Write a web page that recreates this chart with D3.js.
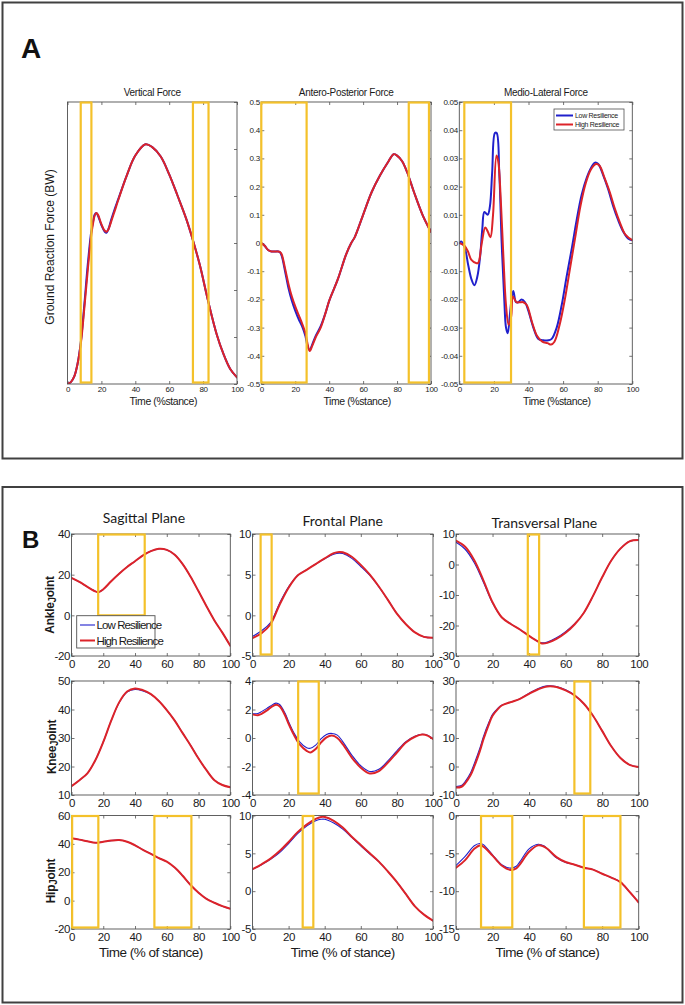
<!DOCTYPE html>
<html><head><meta charset="utf-8">
<script src="https://cdn.jsdelivr.net/npm/d3@7"></script>
<style>body{margin:0;background:#fff} svg{display:block}</style>
</head><body><svg id="c" width="685" height="1005"></svg>
<script>
// ---------------- DATA ----------------
const seriesNames = ["Low Resilience", "High Resilience"];

// Panel A : ground reaction forces
const vfX    = [0,2,4,6,8,10,12,14,15,16,17,18,20,22,23,24,26,28,30,35,40,46,50,55,60,65,70,74,78,83,88,92,96,100];
const vfHigh = [0,0.02,0.08,0.22,0.45,0.82,1.22,1.58,1.7,1.79,1.82,1.8,1.7,1.63,1.62,1.64,1.74,1.85,1.96,2.22,2.43,2.55,2.52,2.42,2.23,2.0,1.76,1.53,1.27,0.88,0.53,0.32,0.16,0.07];
const vfLow  = [0,0.02,0.08,0.22,0.47,0.86,1.28,1.62,1.72,1.8,1.82,1.79,1.69,1.62,1.61,1.64,1.76,1.87,1.97,2.22,2.43,2.55,2.52,2.42,2.23,2.0,1.76,1.53,1.27,0.88,0.53,0.32,0.16,0.07];
const vfYTicks = [0,0.5,1,1.5,2,2.5,3];
const vfYLabels = ["0","0.5","1","1.5","2","2.5","3"];

const apX    = [0,2,4,6,8,10,11,12,14,16,18,20,22,24,26,27,28.5,30,32,35,38,40,45,50,53,55,60,65,70,75,78,80,83,86,90,95,98.8,100];
const apHigh = [0,-0.01,-0.025,-0.03,-0.03,-0.03,-0.032,-0.04,-0.09,-0.145,-0.19,-0.225,-0.255,-0.285,-0.32,-0.35,-0.383,-0.365,-0.335,-0.3,-0.245,-0.205,-0.13,-0.04,0,0.02,0.1,0.18,0.24,0.29,0.315,0.31,0.29,0.25,0.18,0.1,0.053,0.04];
const apLow  = [0,-0.01,-0.025,-0.03,-0.03,-0.03,-0.033,-0.045,-0.1,-0.16,-0.205,-0.24,-0.27,-0.295,-0.33,-0.36,-0.38,-0.36,-0.33,-0.295,-0.245,-0.205,-0.13,-0.04,0,0.02,0.1,0.18,0.24,0.29,0.315,0.31,0.29,0.25,0.18,0.1,0.053,0.04];
const apYTicks = [-0.5,-0.4,-0.3,-0.2,-0.1,0,0.1,0.2,0.3,0.4,0.5];
const apYLabels = ["-0.5","-0.4","-0.3","-0.2","-0.1","0","0.1","0.2","0.3","0.4","0.5"];

const mlLowX  = [0,1.3,3.3,5.2,7.1,8.7,10.4,12,13.3,14.5,16.4,17.7,19,20.6,21.6,23.1,24.5,26,27,28,29.3,30.2,31.2,32.8,34.1,36,38,39.9,42.8,45.7,48.6,51.4,53.4,56.3,59.2,62,65,67.8,70.7,73.6,76.5,78.4,80.3,83.2,86.1,89,91.9,94.8,97.7,100];
const mlLow   = [0,0.0005,-0.002,-0.008,-0.013,-0.015,-0.012,-0.005,0.005,0.011,0.01,0.013,0.025,0.039,0.039,0.025,0,-0.02,-0.03,-0.032,-0.025,-0.02,-0.017,-0.021,-0.021,-0.02,-0.021,-0.024,-0.03,-0.034,-0.0345,-0.0345,-0.034,-0.03,-0.022,-0.012,-0.002,0.008,0.017,0.023,0.027,0.0285,0.028,0.024,0.019,0.013,0.008,0.004,0.0015,0.001];
const mlHighX = [0,3,5,7,10,11,13,15,16.5,18,19.5,21.5,22.5,24,25.5,27,28.5,30,31,33,35,37,39,42,45,48,51,53,55,58,61,64,67,70,73,76,79,81,84,87,90,93,96,100];
const mlHigh  = [0,-0.001,-0.003,-0.006,-0.0072,-0.007,0,0.0055,0.004,0.002,0.01,0.031,0.029,0.015,-0.005,-0.022,-0.029,-0.026,-0.019,-0.021,-0.021,-0.021,-0.022,-0.028,-0.033,-0.035,-0.0355,-0.036,-0.035,-0.029,-0.02,-0.009,0.002,0.013,0.021,0.026,0.028,0.0275,0.023,0.018,0.012,0.007,0.003,0.001];
const mlYTicks = [-0.05,-0.04,-0.03,-0.02,-0.01,0,0.01,0.02,0.03,0.04,0.05];
const mlYLabels = ["-0.05","-0.04","-0.03","-0.02","-0.01","0","0.01","0.02","0.03","0.04","0.05"];

const pctTicks = [0,20,40,60,80,100];
const pctLabels = ["0","20","40","60","80","100"];

// Panel B : joint angles
const ankSagX    = [0,5,10,15,17,20,25,30,35,40,45,50,55,60,65,70,75,80,85,90,95,100];
const ankSagHigh = [18.4,16.4,14,11.8,11.4,12.8,16.8,20.5,23.8,26.6,29.5,31.6,32.7,32.2,29.8,25.2,19,11.8,4.5,-2.5,-8.5,-15];
const ankSagLow  = [18.4,16.4,14,11.8,11.4,12.8,16.8,20.5,23.8,26.6,29.5,31.6,32.7,32.2,29.8,25.2,19,11.8,4.5,-2.5,-8.5,-15];

const ankFrX    = [0,5,10,15,20,25,30,35,40,45,48,50,55,60,65,70,75,80,85,90,95,100];
const ankFrHigh = [-2.8,-2.2,-1.1,1.3,3.4,4.9,5.6,6.3,7.0,7.65,7.8,7.75,7.2,6.2,5.0,3.55,1.9,0.2,-1.1,-2.1,-2.65,-2.75];
const ankFrLow  = [-2.6,-1.9,-0.9,1.5,3.5,4.9,5.6,6.3,6.95,7.5,7.65,7.6,7.0,6.0,4.9,3.5,1.9,0.2,-1.1,-2.1,-2.65,-2.75];

const ankTrX    = [0,5,10,15,20,25,30,35,40,45,47,50,55,60,65,70,75,80,85,90,95,100];
const ankTrHigh = [7.8,5.8,1.4,-5.2,-12.4,-17.3,-19.5,-21.3,-23.4,-25.3,-25.9,-25.7,-24.4,-22.4,-19.6,-15.8,-10.3,-4.2,1.3,5.2,7.6,8.0];
const ankTrLow  = [7.3,5.0,0.6,-5.8,-12.6,-17.3,-19.5,-21.3,-23.4,-25.3,-25.7,-25.4,-24.0,-22.0,-19.4,-15.8,-10.3,-4.2,1.3,5.2,7.6,8.0];

const kneSagX    = [0,5,10,15,20,25,30,35,40,45,50,55,60,65,70,75,80,85,90,95,100];
const kneSagHigh = [13.1,15.2,17.6,22.2,28.6,36.1,42.5,46.3,47.4,46.8,45.4,43,39.8,36.1,31.7,27.4,22.8,18.7,15.2,13.5,12.7];
const kneSagLow  = [13.1,15.2,17.6,22.2,28.6,36.1,42.4,46.1,47.0,46.5,45.3,43,39.8,36.1,31.7,27.4,22.8,18.7,15.2,13.5,12.7];

const kneFrX    = [0,3,5,8,10,13,15,18,20,23,26,30,32,35,38,41,44,47,50,55,60,65,70,75,80,85,90,94,97,100];
const kneFrHigh = [1.66,1.6,1.7,1.94,2.13,2.34,2.22,1.6,1.0,0.21,-0.43,-0.9,-1.02,-0.78,-0.31,0.05,0.17,0,-0.43,-1.37,-2.08,-2.49,-2.32,-1.73,-1.02,-0.31,0.09,0.24,0.17,-0.07];
const kneFrLow  = [1.7,1.72,1.85,2.08,2.25,2.45,2.35,1.75,1.15,0.35,-0.25,-0.68,-0.72,-0.5,-0.05,0.25,0.32,0.2,-0.25,-1.2,-1.95,-2.35,-2.2,-1.6,-0.9,-0.25,0.12,0.26,0.2,-0.05];

const kneTrX    = [0,3,5,8,10,13,15,18,20,23,25,30,35,40,45,50,55,60,65,70,75,80,85,90,95,100];
const kneTrHigh = [-7.4,-7.1,-5.9,-3.0,0,5.3,9.5,14.8,17.8,20.2,21.4,22.6,23.7,25.5,27.1,28.1,27.9,26.7,24.9,22,17.8,12.5,7.1,3.0,0.6,-0.2];
const kneTrLow  = [-7.0,-6.7,-5.3,-2.2,1.0,6.3,10.5,15.5,18.3,20.5,21.5,22.6,23.8,25.7,27.4,28.3,28.1,26.9,25.0,22,17.8,12.5,7.1,3.0,0.6,-0.2];

const hipSagX    = [0,5,10,15,20,25,30,35,40,45,50,55,60,65,70,75,80,85,90,95,100];
const hipSagHigh = [44,43,41.8,40.8,41.5,42.3,42.7,41.5,39,35.8,33,30,27.5,23.3,17.5,11,5.6,1.3,-1.5,-3.9,-5.7];
const hipSagLow  = [44,43,41.8,40.8,41.5,42.3,42.7,41.5,39,35.8,33,30,27.5,23.3,17.5,11,5.6,1.3,-1.5,-3.9,-5.7];

const hipFrX    = [0,5,10,15,20,25,30,35,38,40,45,50,55,60,65,70,75,80,85,90,95,100];
const hipFrHigh = [2.9,3.55,4.3,5.3,6.5,7.8,8.8,9.55,9.8,9.8,9.3,8.4,7.2,6.1,5.0,3.9,2.6,1.2,-0.4,-2.0,-3.1,-3.9];
const hipFrLow  = [2.9,3.5,4.2,5.1,6.3,7.6,8.6,9.3,9.5,9.5,9.0,8.2,7.1,6.0,4.9,3.9,2.6,1.2,-0.4,-2.0,-3.1,-3.9];

const hipTrX    = [0,5,10,13,15,20,25,30,33,35,40,45,48,50,55,60,65,70,75,80,85,90,95,100];
const hipTrHigh = [-6.9,-5.9,-4.4,-3.95,-4.1,-5.3,-6.6,-7.2,-7.0,-6.45,-4.8,-3.95,-4.1,-4.4,-5.5,-6.15,-6.5,-6.9,-7.15,-7.7,-8.2,-8.8,-10.1,-11.5];
const hipTrLow  = [-6.6,-5.4,-4.0,-3.7,-3.85,-5.2,-6.5,-6.95,-6.7,-6.1,-4.4,-3.8,-4.0,-4.4,-5.6,-6.2,-6.5,-6.9,-7.15,-7.7,-8.2,-8.8,-10.1,-11.5];

// highlighted (yellow) windows: [xStart, xEnd]
const vfWindows  = [[7.8,14.1],[74,83.2]];
const apWindows  = [[0,26.7],[86.9,98.8]];
const mlWindows  = [[2.9,29.9]];
const ankSagWin  = [[16.8,46.1]];
const ankFrWin   = [[4.5,10.6]];
const ankTrWin   = [[39.3,45.5]];
const kneFrWin   = [[25.3,36.7]];
const kneTrWin   = [[64.8,73.5]];
const hipSagWin  = [[0.4,16.9],[52.2,75.5]];
const hipFrWin   = [[27.8,33.7]];
const hipTrWin   = [[13.7,30.8],[70,90]];

// ---------------- DRAW ----------------
const svg = d3.select("#c");
const RED = "#dc2329", BLUE = "#2020cc", GOLD = "#f4c12a", AX = "#505050", TXT = "#1a1a1a";
const NARROW = "'Liberation Sans Narrow','Arial Narrow','Liberation Sans',Arial,sans-serif";
const SANS = "'Liberation Sans',Arial,sans-serif";
let clipN = 0;

// panel frames
svg.append("rect").attr("x",2.5).attr("y",2.5).attr("width",680).attr("height",456)
  .attr("fill","none").attr("stroke","#404040").attr("stroke-width",2);
svg.append("rect").attr("x",2.5).attr("y",487).attr("width",680).attr("height",515.5)
  .attr("fill","none").attr("stroke","#404040").attr("stroke-width",2);
svg.append("text").attr("x",21).attr("y",58).text("A")
  .attr("font-family",SANS).attr("font-weight","bold").attr("font-size",28).attr("fill","#111");
svg.append("text").attr("x",22).attr("y",548).text("B")
  .attr("font-family",SANS).attr("font-weight","bold").attr("font-size",24).attr("fill","#111");

function plot(c){
  const [x0,y0,x1,y1] = c.box;
  const x = d3.scaleLinear().domain([0,100]).range([x0,x1]);
  const y = d3.scaleLinear().domain(c.yd).range([y1,y0]);
  const g = svg.append("g");
  const id = "clip"+(clipN++);
  svg.append("clipPath").attr("id",id).append("rect")
    .attr("x",x0).attr("y",y0).attr("width",x1-x0).attr("height",y1-y0);
  const ts = 3;
  const ax = [
    g.append("g").attr("transform",`translate(0,${y1})`)
      .call(d3.axisBottom(x).tickValues(pctTicks).tickFormat((d,i)=>pctLabels[i]).tickSize(-ts).tickSizeOuter(0).tickPadding(c.xpad)),
    g.append("g").attr("transform",`translate(0,${y0})`)
      .call(d3.axisTop(x).tickValues(pctTicks).tickFormat("").tickSize(-ts).tickSizeOuter(0)),
    g.append("g").attr("class","yl").attr("transform",`translate(${x0},0)`)
      .call(d3.axisLeft(y).tickValues(c.yt).tickFormat((d,i)=>c.yl[i]).tickSize(-ts).tickSizeOuter(0).tickPadding(c.ypad)),
    g.append("g").attr("transform",`translate(${x1},0)`)
      .call(d3.axisRight(y).tickValues(c.yt).tickFormat("").tickSize(-ts).tickSizeOuter(0))
  ];
  ax.forEach(a=>{
    a.select(".domain").remove();
    a.selectAll("line").attr("stroke",AX).attr("stroke-width",0.8);
    a.selectAll("text").attr("fill",TXT).attr("font-family",c.font).attr("font-size",c.fs).attr("letter-spacing",c.ls);
  });
  if (c.ylClip){
    const cid = "clip"+(clipN++);
    svg.append("clipPath").attr("id",cid).append("rect")
      .attr("x",c.ylClip).attr("y",y0-10).attr("width",x0-c.ylClip).attr("height",y1-y0+20);
    ax[2].attr("clip-path",`url(#${cid})`);
  }
  // lines
  const lg = g.append("g").attr("clip-path",`url(#${id})`);
  c.series.forEach(s=>{
    const pts = s.x.map((v,i)=>[v,s.y[i]]);
    lg.append("path").datum(pts)
      .attr("d", d3.line().x(d=>x(d[0])).y(d=>y(d[1])).curve(d3.curveCatmullRom.alpha(0.5)))
      .attr("fill","none").attr("stroke",s.color).attr("stroke-width",s.w)
      .attr("stroke-linejoin","round").attr("stroke-linecap","round");
  });
  // box
  g.append("rect").attr("x",x0).attr("y",y0).attr("width",x1-x0).attr("height",y1-y0)
    .attr("fill","none").attr("stroke",AX).attr("stroke-width",0.9);
  // windows
  (c.win||[]).forEach(w=>{
    const yb = c.winBottom!==undefined ? y(c.winBottom) : y1-1.5;
    g.append("rect").attr("x",x(w[0])).attr("y",y0+0.5).attr("width",x(w[1])-x(w[0])).attr("height",yb-y0-0.5)
      .attr("fill","none").attr("stroke",GOLD).attr("stroke-width",2.2);
  });
  // title
  if (c.title){
    g.append("text").attr("x",(x0+x1)/2+(c.titleDx||0)).attr("y",c.titleY).attr("text-anchor","middle")
      .text(c.title).attr("font-family",c.titleFont).attr("font-size",c.titleFs).attr("fill",TXT)
      .attr("letter-spacing",c.titleLs||0);
  }
  if (c.xlabel){
    g.append("text").attr("x",(x0+x1)/2+(c.xlabelDx||0)).attr("y",c.xlabelY).attr("text-anchor","middle")
      .text(c.xlabel).attr("font-family",c.font).attr("font-size",c.xlabelFs).attr("fill",TXT)
      .attr("letter-spacing",c.xlabelLs||0);
  }
  return {x,y,g};
}

// ---- Panel A
const aCommon = {font:SANS, fs:8, ls:-0.3, xpad:2.8, ypad:1.5, titleY:96, titleFont:SANS, titleFs:10, titleLs:-0.3,
  xlabel:"Time (%stance)", xlabelY:405, xlabelFs:10.5, xlabelLs:-0.4, xlabelDx:11};
plot(Object.assign({}, aCommon, {box:[67.5,102,237,384], yd:[0,3], yt:vfYTicks, yl:vfYLabels, ylClip:58,
  title:"Vertical Force", win:vfWindows,
  series:[{x:vfX,y:vfLow,color:BLUE,w:2},{x:vfX,y:vfHigh,color:RED,w:2}]}));
plot(Object.assign({}, aCommon, {box:[261.3,102,431,384], yd:[-0.5,0.5], yt:apYTicks, yl:apYLabels,
  title:"Antero-Posterior Force", win:apWindows,
  series:[{x:apX,y:apLow,color:BLUE,w:2},{x:apX,y:apHigh,color:RED,w:2}]}));
plot(Object.assign({}, aCommon, {box:[459.3,102,632.3,384], yd:[-0.05,0.05], yt:mlYTicks, yl:mlYLabels,
  title:"Medio-Lateral Force", win:mlWindows,
  series:[{x:mlLowX,y:mlLow,color:BLUE,w:2},{x:mlHighX,y:mlHigh,color:RED,w:2}]}));

svg.append("text").attr("transform","translate(54,247) rotate(-90)").attr("text-anchor","middle")
  .text("Ground Reaction Force (BW)").attr("font-family",SANS).attr("font-size",12).attr("fill",TXT);

// legend A
{
  const lg = svg.append("g");
  lg.append("rect").attr("x",554).attr("y",109).attr("width",70).attr("height",21)
    .attr("fill","#fff").attr("stroke",AX).attr("stroke-width",0.8);
  [[BLUE,115.5],[RED,124.5]].forEach((d,i)=>{
    lg.append("line").attr("x1",556).attr("x2",573).attr("y1",d[1]).attr("y2",d[1]).attr("stroke",d[0]).attr("stroke-width",2);
    lg.append("text").attr("x",575).attr("y",d[1]+2.5).text(seriesNames[i])
      .attr("font-family",SANS).attr("font-size",7).attr("letter-spacing",-0.3).attr("fill",TXT);
  });
}

// ---- Panel B
const cols = [[71.5,230.3],[252.5,433],[456,638.7]];
const rows = [[534,656],[681,795],[815.5,929]];
const bCommon = {font:NARROW, fs:11.5, ls:-0.4, xpad:3.5, ypad:1.5, titleFont:"Lato,'Open Sans',sans-serif", titleFs:14};
function bp(ci,ri,extra){
  return plot(Object.assign({}, bCommon, {box:[cols[ci][0],rows[ri][0],cols[ci][1],rows[ri][1]]}, extra));
}
const thin = 1.1, thick = 2;
bp(0,0,{yd:[-20,40], yt:[-20,0,20,40], yl:["-20","0","20","40"], win:ankSagWin, winBottom:0,
  title:"Sagittal Plane", titleY:523, titleDx:-7,
  series:[{x:ankSagX,y:ankSagLow,color:BLUE,w:thin},{x:ankSagX,y:ankSagHigh,color:RED,w:thick}]});
bp(1,0,{yd:[-5,10], yt:[-5,0,5,10], yl:["-5","0","5","10"], win:ankFrWin,
  title:"Frontal Plane", titleY:526,
  series:[{x:ankFrX,y:ankFrLow,color:BLUE,w:thin},{x:ankFrX,y:ankFrHigh,color:RED,w:thick}]});
bp(2,0,{yd:[-30,10], yt:[-30,-20,-10,0,10], yl:["-30","-20","-10","0","10"], win:ankTrWin,
  title:"Transversal Plane", titleY:528, titleDx:-3,
  series:[{x:ankTrX,y:ankTrLow,color:BLUE,w:thin},{x:ankTrX,y:ankTrHigh,color:RED,w:thick}]});
bp(0,1,{yd:[10,50], yt:[10,20,30,40,50], yl:["10","20","30","40","50"],
  series:[{x:kneSagX,y:kneSagLow,color:BLUE,w:thin},{x:kneSagX,y:kneSagHigh,color:RED,w:thick}]});
bp(1,1,{yd:[-4,4], yt:[-4,-2,0,2,4], yl:["-4","-2","0","2","4"], win:kneFrWin,
  series:[{x:kneFrX,y:kneFrLow,color:BLUE,w:thin},{x:kneFrX,y:kneFrHigh,color:RED,w:thick}]});
bp(2,1,{yd:[-10,30], yt:[-10,0,10,20,30], yl:["-10","0","10","20","30"], win:kneTrWin,
  series:[{x:kneTrX,y:kneTrLow,color:BLUE,w:thin},{x:kneTrX,y:kneTrHigh,color:RED,w:thick}]});
const xlB = {xlabel:"Time (% of stance)", xlabelY:957, xlabelFs:13.5, xlabelLs:-0.5};
bp(0,2,Object.assign({yd:[-20,60], yt:[-20,0,20,40,60], yl:["-20","0","20","40","60"], win:hipSagWin,
  series:[{x:hipSagX,y:hipSagLow,color:BLUE,w:thin},{x:hipSagX,y:hipSagHigh,color:RED,w:thick}]}, xlB));
bp(1,2,Object.assign({yd:[-5,10], yt:[-5,0,5,10], yl:["-5","0","5","10"], win:hipFrWin,
  series:[{x:hipFrX,y:hipFrLow,color:BLUE,w:thin},{x:hipFrX,y:hipFrHigh,color:RED,w:thick}]}, xlB));
bp(2,2,Object.assign({yd:[-15,0], yt:[-15,-10,-5,0], yl:["-15","-10","-5","0"], win:hipTrWin,
  series:[{x:hipTrX,y:hipTrLow,color:BLUE,w:thin},{x:hipTrX,y:hipTrHigh,color:RED,w:thick}]}, xlB));

// joint labels (MATLAB TeX style subscript J)
[["Ankle",53.5,605],["Knee",56,747],["Hip",55,881]].forEach(d=>{
  const t = svg.append("text").attr("transform",`translate(${d[1]},${d[2]}) rotate(-90)`).attr("text-anchor","middle")
    .attr("font-family",NARROW).attr("font-weight","bold").attr("font-size",12).attr("fill",TXT).attr("letter-spacing",-0.3);
  t.append("tspan").text(d[0]);
  t.append("tspan").attr("dy",2).attr("font-size",10).text("J");
  t.append("tspan").attr("dy",-2).text("oint");
});

// legend B
{
  const lg = svg.append("g");
  lg.append("rect").attr("x",76.7).attr("y",615.7).attr("width",78.3).attr("height",32.3)
    .attr("fill","#fff").attr("stroke",AX).attr("stroke-width",0.9);
  [[BLUE,625,thin],[RED,640.5,thick]].forEach((d,i)=>{
    lg.append("line").attr("x1",80).attr("x2",95).attr("y1",d[1]).attr("y2",d[1]).attr("stroke",d[0]).attr("stroke-width",d[2]);
    lg.append("text").attr("x",96.5).attr("y",d[1]+4).text(seriesNames[i])
      .attr("font-family",NARROW).attr("font-size",11.5).attr("letter-spacing",-0.9).attr("fill",TXT);
  });
}
</script></body></html>
